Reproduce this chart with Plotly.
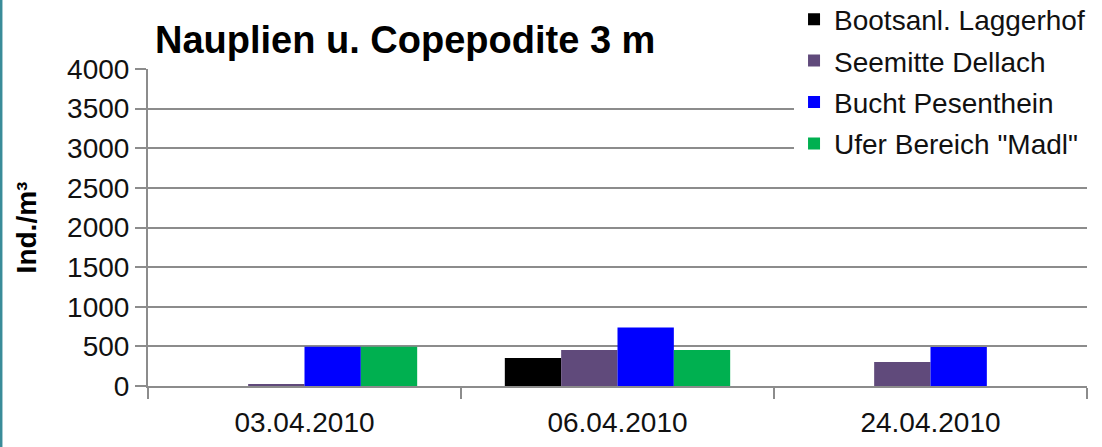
import plotly.graph_objects as go

categories = ["03.04.2010", "06.04.2010", "24.04.2010"]
series_names = ["Bootsanl. Laggerhof", "Seemitte Dellach", "Bucht Pesenthein", 'Ufer Bereich "Madl"']
bootsanl = [0, 354, 0]
seemitte = [22, 454, 303]
bucht = [495, 737, 491]
ufer = [495, 454, 0]
colors = ["#000000", "#604A7B", "#0000FF", "#00B050"]
y_ticks = [0, 500, 1000, 1500, 2000, 2500, 3000, 3500, 4000]

FONT = "Liberation Sans, Arial, sans-serif"

fig = go.Figure()
for i, (name, vals, col) in enumerate(zip(series_names, [bootsanl, seemitte, bucht, ufer], colors)):
    fig.add_trace(go.Bar(name=name, x=categories, y=vals, legendgroup=f"g{i}",
                         marker=dict(color=col, line=dict(width=0))))

fig.update_layout(
    width=1102, height=447,
    margin=dict(l=148, r=15, t=69, b=61, autoexpand=False),
    paper_bgcolor="white", plot_bgcolor="white",
    barmode="group", bargap=0.28, bargroupgap=0,
    font=dict(family=FONT, size=28, color="#111111"),
    title=dict(text="<b>Nauplien u. Copepodite 3 m</b>", x=155/1102, xanchor="left",
               y=1-40/447, yanchor="middle", font=dict(family=FONT, size=38, color="#000000")),
    legend=dict(x=0.688, y=1.235, xanchor="left", yanchor="top", bgcolor="white",
                font=dict(family=FONT, size=28, color="#111111"), itemwidth=30,
                traceorder="grouped", tracegroupgap=2),
    showlegend=True,
)
fig.update_xaxes(type="category", showline=True, linecolor="#8c8c8c", linewidth=2,
                 ticks="outside", tickson="boundaries", ticklen=11, tickcolor="#8c8c8c", tickwidth=2,
                 showgrid=False, tickfont=dict(size=28), automargin=False, ticklabelstandoff=10)
fig.update_yaxes(range=[0, 4000], tickvals=y_ticks, showline=True, linecolor="#8c8c8c", linewidth=2,
                 ticks="outside", ticklen=11, tickcolor="#8c8c8c", tickwidth=2,
                 showgrid=True, gridcolor="#8c8c8c", gridwidth=1.5, zeroline=False,
                 tickfont=dict(size=28), automargin=False,
                 title=dict(text="<b>Ind./m³</b>", font=dict(size=28, color="#000000"), standoff=22))

fig.add_shape(type="line", xref="paper", yref="paper", x0=-0.1566, x1=-0.1566, y0=-0.3, y1=1.3,
              line=dict(color="#3A8C99", width=3))

fig.write_html("out.html", config={"displayModeBar": False},
               post_script="document.body.style.margin='0px';document.body.style.padding='0px';")
